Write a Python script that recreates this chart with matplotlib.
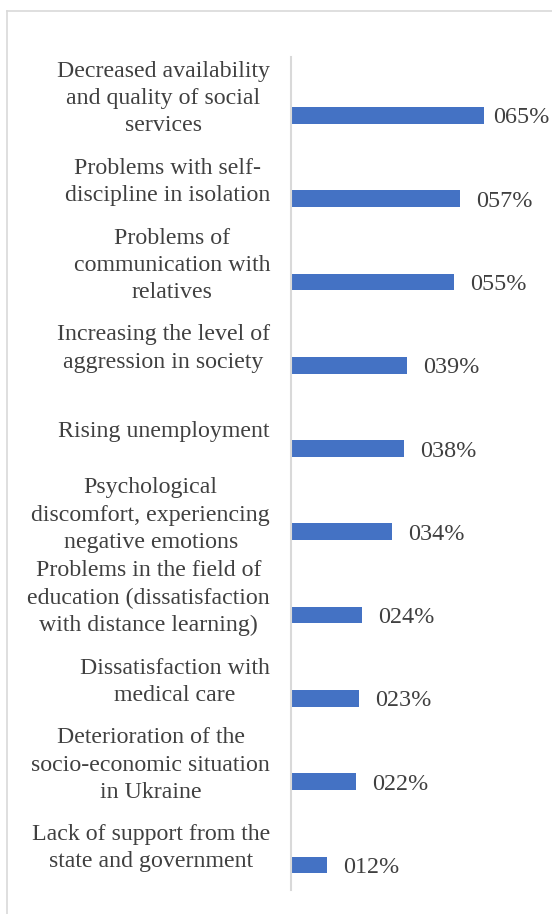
import matplotlib
matplotlib.use('Agg')
import matplotlib.pyplot as plt
from matplotlib.lines import Line2D

categories = [
    "Decreased availability\nand quality of social\nservices",
    "Problems with self-\ndiscipline in isolation",
    "Problems of\ncommunication with\nrelatives",
    "Increasing the level of\naggression in society",
    "Rising unemployment",
    "Psychological\ndiscomfort, experiencing\nnegative emotions",
    "Problems in the field of\neducation (dissatisfaction\nwith distance learning)",
    "Dissatisfaction with\nmedical care",
    "Deterioration of the\nsocio-economic situation\nin Ukraine",
    "Lack of support from the\nstate and government",
]
values = [65, 57, 55, 39, 38, 34, 24, 23, 22, 12]
value_labels = ["065%", "057%", "055%", "039%", "038%", "034%", "024%", "023%", "022%", "012%"]

W, H = 552, 914
BAR = '#4472C4'
TXT = '#404040'
GRID = '#d9d9d9'
FONT = 'Liberation Serif'

fig = plt.figure(figsize=(W / 100, H / 100), dpi=100)

# outer frame (left and top edges visible)
fig.add_artist(Line2D([7 / W, 1], [1 - 11 / H, 1 - 11 / H], transform=fig.transFigure,
                      color=GRID, lw=1.2))
fig.add_artist(Line2D([7 / W, 7 / W], [0, 1 - 11 / H], transform=fig.transFigure,
                      color=GRID, lw=1.2))

ax = fig.add_axes([291 / W, (H - 890) / H, (W - 291) / W, 833 / H])
n = len(values)
ypos = list(range(n))
ax.barh([y + 0.2 for y in ypos], values, height=0.2, color=BAR)
ax.set_ylim(n - 0.5, -0.5)
xmax = (W - 291) / 2.97
ax.set_xlim(0, xmax)

for y, v, lab in zip(ypos, values, value_labels):
    x = min(v + 5.4, 68)
    ax.text(x, y + 0.23, lab, ha='left', va='center', fontsize=17.4,
            family=FONT, color=TXT, clip_on=False)

for y, cat in zip(ypos, categories):
    ax.text(-21 / 2.97, y, cat, ha='right', va='center', multialignment='center',
            fontsize=17.2, family=FONT, color=TXT, linespacing=1.39, clip_on=False)

for s in ['top', 'right', 'bottom']:
    ax.spines[s].set_visible(False)
ax.spines['left'].set_color(GRID)
ax.spines['left'].set_linewidth(1.5)
ax.set_xticks([])
ax.set_yticks([])

fig.savefig('out.png', dpi=100)
